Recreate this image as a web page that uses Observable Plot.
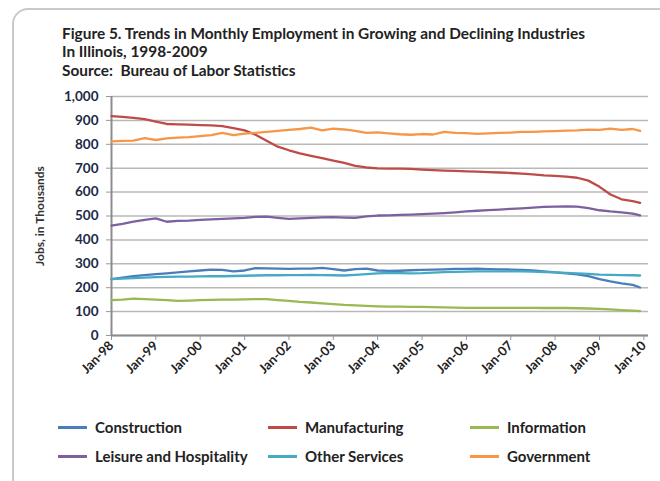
<!DOCTYPE html>
<html>
<head>
<meta charset="utf-8">
<script src="https://cdn.jsdelivr.net/npm/d3@7"></script>
<script src="https://cdn.jsdelivr.net/npm/@observablehq/plot@0.6"></script>
<style>
  html, body { margin: 0; padding: 0; background: #fff; }
  #wrap { position: relative; width: 660px; height: 481px; overflow: hidden; font-family: Lato, "Open Sans", sans-serif; }
  #frame { position: absolute; left: 12px; top: 8px; width: 720px; height: 520px; border: 2px solid #c9c9c9; border-radius: 16px; box-sizing: border-box; }
  .title { position: absolute; left: 62px; font-size: 15.4px; line-height: 1.2; font-weight: bold; color: #222; white-space: nowrap; }
  #chart { position: absolute; left: 0; top: 80px; }
  .leg { position: absolute; display: flex; align-items: center; font-size: 15px; font-weight: bold; color: #222; white-space: nowrap; }
  .sw { width: 29px; height: 3px; margin-right: 8px; }
</style>
</head>
<body>
<div id="wrap">
  <div id="frame"></div>
  <div class="title" style="top:24px">Figure 5. Trends in Monthly Employment in Growing and Declining Industries</div>
  <div class="title" style="top:42px">In Illinois, 1998-2009</div>
  <div class="title" style="top:61px">Source:&nbsp; Bureau of Labor Statistics</div>
  <div id="chart"></div>
  <div id="legend"></div>
</div>
<script>
// Quarterly readings (thousands of jobs)
const dates = [
  "1998-01","1998-04","1998-07","1998-10","1999-01","1999-04","1999-07","1999-10",
  "2000-01","2000-04","2000-07","2000-10","2001-01","2001-04","2001-07","2001-10",
  "2002-01","2002-04","2002-07","2002-10","2003-01","2003-04","2003-07","2003-10",
  "2004-01","2004-04","2004-07","2004-10","2005-01","2005-04","2005-07","2005-10",
  "2006-01","2006-04","2006-07","2006-10","2007-01","2007-04","2007-07","2007-10",
  "2008-01","2008-04","2008-07","2008-10","2009-01","2009-04","2009-07","2009-10","2009-12"
];
const construction = [236,242,248,253,257,260,264,268,272,276,275,268,272,282,281,280,279,280,280,283,278,272,278,280,272,270,271,273,275,276,277,279,279,280,278,277,276,275,272,268,264,260,256,248,236,226,218,212,201];
const manufacturing = [918,915,911,905,895,885,883,882,880,879,876,868,858,840,815,790,775,762,752,742,732,722,710,703,699,698,698,697,694,692,690,689,687,686,684,682,680,677,674,670,668,665,660,648,622,590,570,562,555];
const information = [148,150,154,152,150,148,145,146,148,149,150,150,151,152,152,148,145,141,138,134,131,128,126,124,122,121,121,120,120,119,118,117,116,116,116,116,116,116,116,115,115,115,114,113,111,109,106,104,102];
const leisure = [460,467,476,484,490,476,480,481,484,486,488,490,492,496,497,492,488,490,492,494,495,493,492,498,502,503,505,506,508,510,512,515,519,522,525,527,530,532,535,538,539,540,539,533,524,519,515,510,503];
const otherServices = [236,238,240,242,244,245,246,246,247,248,248,249,250,251,252,252,253,253,254,253,252,251,254,257,260,262,261,260,261,263,265,266,267,268,268,268,268,268,267,265,264,262,260,258,255,254,253,252,251];
const government = [812,814,815,826,818,825,828,830,834,838,848,838,845,848,852,856,860,864,870,858,866,862,856,848,850,846,842,840,843,841,852,848,847,844,846,848,849,852,852,854,855,857,858,861,860,866,860,864,856];

const seriesNames = ["Construction","Manufacturing","Information","Leisure and Hospitality","Other Services","Government"];
const seriesValues = [construction, manufacturing, information, leisure, otherServices, government];
const seriesColors = ["#4a7ebb","#be4b48","#98b954","#7d60a0","#46aac5","#f79646"];
const yTicks = [0,100,200,300,400,500,600,700,800,900,1000];
const xTickYears = [1998,1999,2000,2001,2002,2003,2004,2005,2006,2007,2008,2009,2010];

const parse = d3.utcParse("%Y-%m");
const rows = [];
seriesNames.forEach((name, i) => {
  seriesValues[i].forEach((v, j) => rows.push({series: name, date: parse(dates[j]), value: v}));
});
const xTicks = xTickYears.map(y => new Date(Date.UTC(y, 0, 1)));
const x0 = xTicks[0];

const chart = Plot.plot({
  width: 660,
  height: 330,
  marginLeft: 111,
  marginRight: 12,
  marginTop: 16,
  marginBottom: 75,
  style: {fontFamily: "Lato, 'Open Sans', sans-serif", background: "transparent", overflow: "visible"},
  x: {type: "utc", domain: [x0, new Date(Date.UTC(2010, 1, 8))]},
  y: {domain: [0, 1000]},
  color: {domain: seriesNames, range: seriesColors},
  marks: [
    Plot.gridY(yTicks, {stroke: "#b8b8b8", strokeOpacity: 1, strokeWidth: 1.5}),
    Plot.axisY(yTicks, {tickSize: 5, tickPadding: 8, tickFormat: d3.format(","), fontSize: 13.5, fontWeight: "bold", stroke: "#999", fill: "#1e2a48", label: null}),
    Plot.axisX(xTicks, {tickSize: 5, tickPadding: 3, tickRotate: -45, tickFormat: d3.utcFormat("Jan-%y"), fontSize: 13, fontWeight: "bold", stroke: "#999", fill: "#222", label: null}),
    Plot.text(["Jobs, in Thousands"], {frameAnchor: "left", rotate: -90, dx: -71, textAnchor: "middle", fontSize: 12, fontWeight: "bold", fill: "#333"}),
    Plot.ruleY([0], {stroke: "#8c8c8c", strokeWidth: 2}),
    Plot.ruleX([x0], {stroke: "#8c8c8c", strokeWidth: 2}),
    Plot.line(rows, {x: "date", y: "value", z: "series", stroke: "series", strokeWidth: 2.3, curve: "linear"})
  ]
});
document.getElementById("chart").appendChild(chart);

// Legend
const legPos = [[58,418],[268,418],[470,418],[58,447],[268,447],[470,447]];
const legend = document.getElementById("legend");
seriesNames.forEach((name, i) => {
  const d = document.createElement("div");
  d.className = "leg";
  d.style.left = legPos[i][0] + "px";
  d.style.top = legPos[i][1] + "px";
  const s = document.createElement("span");
  s.className = "sw";
  s.style.background = seriesColors[i];
  d.appendChild(s);
  d.appendChild(document.createTextNode(name));
  legend.appendChild(d);
});
</script>
</body>
</html>
